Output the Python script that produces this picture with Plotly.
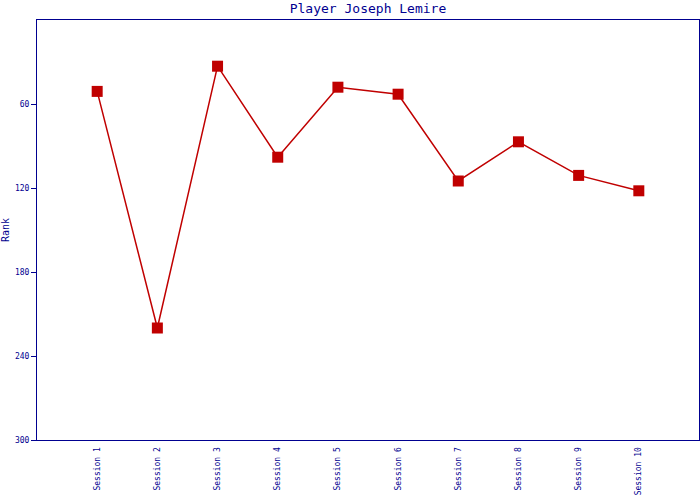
import plotly.graph_objects as go

sessions = ["Session 1", "Session 2", "Session 3", "Session 4", "Session 5",
            "Session 6", "Session 7", "Session 8", "Session 9", "Session 10"]
ranks = [51, 220, 33, 98, 48, 53, 115, 87, 111, 122]
y_ticks = [60, 120, 180, 240, 300]

navy = "#000090"
red = "#c00000"

fig = go.Figure()
fig.add_trace(go.Scatter(
    x=list(range(len(sessions))), y=ranks, mode="lines+markers",
    line=dict(color=red, width=1.5),
    marker=dict(symbol="square", size=11, color=red),
    showlegend=False,
))

fig.update_layout(
    width=700, height=500,
    margin=dict(l=37, r=1, t=20, b=60, autoexpand=False),
    paper_bgcolor="white", plot_bgcolor="white",
    font=dict(family="DejaVu Sans Mono", color=navy),
    title=dict(text="Player Joseph Lemire", x=0.5, xref="paper", xanchor="center",
               y=0.983, yanchor="middle",
               font=dict(family="DejaVu Sans Mono", size=13, color=navy)),
    xaxis=dict(
        range=[-1, 10], tickmode="array",
        tickvals=list(range(len(sessions))), ticktext=sessions,
        tickangle=-90, tickfont=dict(size=8, color=navy),
        showgrid=False, zeroline=False, automargin=False,
        showline=True, linecolor=navy, linewidth=1, mirror=True,
        ticks="outside", ticklen=3, tickcolor="rgba(0,0,0,0)",
    ),
    yaxis=dict(
        range=[300, 0], tickmode="array", tickvals=y_ticks,
        tickfont=dict(size=8, color=navy),
        title=dict(text="Rank", font=dict(size=10, color=navy), standoff=6),
        showgrid=False, zeroline=False, automargin=False,
        showline=True, linecolor=navy, linewidth=1, mirror=True,
        ticks="outside", ticklen=5, tickcolor=navy,
    ),
)

fig.write_html(
    "out.html",
    config={"displayModeBar": False},
    post_script="document.body.style.margin='0';document.body.style.overflow='hidden';",
)
